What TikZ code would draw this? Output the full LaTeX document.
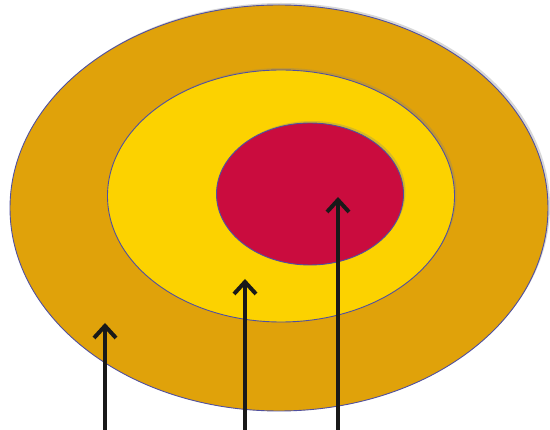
\documentclass[tikz,border=0pt]{standalone}
\usetikzlibrary{shapes.geometric,arrows.meta,shadows}
\definecolor{outerc}{RGB}{224,162,10}
\definecolor{midc}{RGB}{252,210,0}
\definecolor{innerc}{RGB}{202,12,62}
\definecolor{rimc}{RGB}{80,80,160}
\tikzset{
  ring/.style={ellipse, draw=rimc, line width=0.9pt, inner sep=0pt,
    drop shadow={opacity=0.3, shadow xshift=2pt, shadow yshift=2pt}},
  pointer/.style={line width=4.5pt, draw=black!90,
    -{Straight Barb[length=12pt,width=22pt,line width=4pt]}}
}
\begin{document}
\begin{tikzpicture}[x=1pt,y=-1pt]
\useasboundingbox[fill=white] (0,0) rectangle (550,430);
\node[ring, fill=outerc, minimum width=538pt, minimum height=406pt] (outer) at (279,208) {};
\node[ring, fill=midc, minimum width=347pt, minimum height=252pt] (mid) at (281,196) {};
\node[ring, fill=innerc, minimum width=187pt, minimum height=142pt] (inner) at (310,194) {};
\coordinate (s1) at (105,432);
\coordinate (t1) at (105,323);
\coordinate (s2) at (245,432);
\coordinate (t2) at (245,279);
\coordinate (s3) at (338,432);
\coordinate (t3) at (338,197);
\draw[pointer] (s1) -- (t1);
\draw[pointer] (s2) -- (t2);
\draw[pointer] (s3) -- (t3);
\end{tikzpicture}
\end{document}
